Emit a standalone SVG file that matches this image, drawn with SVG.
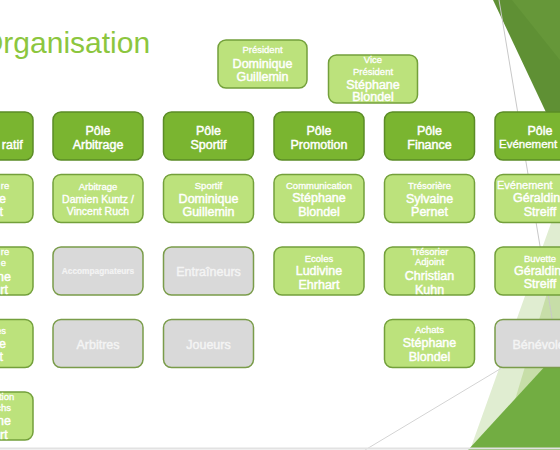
<svg xmlns="http://www.w3.org/2000/svg" width="560" height="450" viewBox="0 0 560 450">
<defs>
<style>
text{font-family:"Liberation Sans",Arial,sans-serif;fill:#ffffff;stroke:#ffffff;stroke-width:0.45;text-anchor:middle}
.pole rect{fill:#7ab530;stroke:#5b8c26;stroke-width:1.5}
.person rect{fill:#bce27c;stroke:#73a03b;stroke-width:1.5}
.grey rect{fill:#d9d9d9;stroke:#7a9c4a;stroke-width:1.5}
.grey text{fill:#f4f4f4;stroke:#f4f4f4}
.r{font-size:9.5px;stroke-width:0.3}
.n{font-size:12.5px}
.s{font-size:10.5px;stroke-width:0.35}
.e{text-anchor:end}
.st{text-anchor:start}
.title{font-size:30px;fill:#8cc63e;stroke:none;text-anchor:start}
</style>
</defs>
<rect x="0" y="0" width="560" height="450" fill="#ffffff"/>
<g id="decor">
<polygon points="493,0 560,0 560,142" fill="#5f9034"/>
<polygon points="512,0 560,0 560,60" fill="#6b9d3d" opacity="0.6"/>
<polygon points="555,212 560,212 560,450 470,450" fill="#e0edd1"/>
<polygon points="560,250 560,450 500,450" fill="#c7dea8"/>
<polygon points="468,450 560,350 560,450" fill="#72ad42"/>
<line x1="499" y1="0" x2="560" y2="366" stroke="#c8c8c8" stroke-width="1"/>
<line x1="365" y1="450" x2="560" y2="333" stroke="#d4d4d4" stroke-width="1"/>
<line x1="0" y1="448.5" x2="560" y2="448.5" stroke="#e2e2e2" stroke-width="2"/>
</g>
<text class="title" x="-20" y="53">Organisation</text>
<g id="connectors"></g>
<g id="president" class="person"><rect x="218" y="40" width="89" height="48" rx="8"/>
<text class="r" x="262.5" y="52.5">Président</text><text class="n" x="262.5" y="67.5">Dominique</text><text class="n" x="262.5" y="81">Guillemin</text></g>
<g id="vice-president" class="person"><rect x="328.5" y="55" width="89" height="48" rx="8"/>
<text class="r" x="373" y="63">Vice</text><text class="r" x="373" y="75">Président</text><text class="n" x="373" y="88.5">Stéphane</text><text class="n" x="373" y="101">Blondel</text></g>

<g id="pole-administratif" class="pole"><rect x="-57" y="112" width="90" height="48" rx="8"/>
<text class="n e" x="22.7" y="148.5">ratif</text></g>
<g id="admin-2" class="person"><rect x="-57" y="174.5" width="90" height="48" rx="8"/>
<text class="r e" x="9.3" y="188.5">re</text><text class="n e" x="6" y="202.5">e</text><text class="n e" x="3" y="216">t</text></g>
<g id="admin-3" class="person"><rect x="-57" y="247" width="90" height="48" rx="8"/>
<text class="r e" x="9.3" y="255">re</text><text class="r e" x="6" y="266">e</text><text class="n e" x="11" y="280.5">ne</text><text class="n e" x="8" y="293.5">rt</text></g>
<g id="admin-4" class="person"><rect x="-57" y="319.5" width="90" height="48" rx="8"/>
<text class="r e" x="6" y="333.5">es</text><text class="n e" x="6" y="347.5">e</text><text class="n e" x="3" y="361">t</text></g>
<g id="admin-5" class="person"><rect x="-57" y="392" width="90" height="48" rx="8"/>
<text class="r e" x="14.3" y="400">ction</text><text class="r e" x="11" y="411">chs</text><text class="n e" x="11" y="425">ne</text><text class="n e" x="7.7" y="438.5">rt</text></g>

<g id="pole-arbitrage" class="pole"><rect x="53" y="112" width="90" height="48" rx="8"/>
<text class="n" x="98" y="134.5">Pôle</text><text class="n" x="98" y="148.5">Arbitrage</text></g>
<g id="arbitrage" class="person"><rect x="53" y="174.5" width="90" height="48" rx="8"/>
<text class="r" x="98" y="190">Arbitrage</text><text class="s" x="98" y="202.8">Damien Kuntz /</text><text class="s" x="98" y="214.8">Vincent Ruch</text></g>
<g id="accompagnateurs" class="grey"><rect x="53" y="247" width="90" height="48" rx="8"/>
<text x="98" y="274" style="font-size:8.3px;font-weight:bold;stroke-width:0.2">Accompagnateurs</text></g>
<g id="arbitres" class="grey"><rect x="53" y="319.5" width="90" height="48" rx="8"/>
<text class="n" x="98" y="348.5">Arbitres</text></g>

<g id="pole-sportif" class="pole"><rect x="163.5" y="112" width="90" height="48" rx="8"/>
<text class="n" x="208.5" y="134.5">Pôle</text><text class="n" x="208.5" y="148.5">Sportif</text></g>
<g id="sportif" class="person"><rect x="163.5" y="174.5" width="90" height="48" rx="8"/>
<text class="r" x="208.5" y="188.5">Sportif</text><text class="n" x="208.5" y="202.8">Dominique</text><text class="n" x="208.5" y="216">Guillemin</text></g>
<g id="entraineurs" class="grey"><rect x="163.5" y="247" width="90" height="48" rx="8"/>
<text class="n" x="208.5" y="275.5">Entraîneurs</text></g>
<g id="joueurs" class="grey"><rect x="163.5" y="319.5" width="90" height="48" rx="8"/>
<text class="n" x="208.5" y="348.5">Joueurs</text></g>

<g id="pole-promotion" class="pole"><rect x="274" y="112" width="90" height="48" rx="8"/>
<text class="n" x="319" y="134.5">Pôle</text><text class="n" x="319" y="148.5">Promotion</text></g>
<g id="communication" class="person"><rect x="274" y="174.5" width="90" height="48" rx="8"/>
<text class="r" x="319" y="188.5">Communication</text><text class="n" x="319" y="202">Stéphane</text><text class="n" x="319" y="215.5">Blondel</text></g>
<g id="ecoles" class="person"><rect x="274" y="247" width="90" height="48" rx="8"/>
<text class="r" x="319" y="261.8">Ecoles</text><text class="n" x="319" y="274.5">Ludivine</text><text class="n" x="319" y="288.5">Ehrhart</text></g>

<g id="pole-finance" class="pole"><rect x="384.5" y="112" width="90" height="48" rx="8"/>
<text class="n" x="429.5" y="134.5">Pôle</text><text class="n" x="429.5" y="148.5">Finance</text></g>
<g id="tresoriere" class="person"><rect x="384.5" y="174.5" width="90" height="48" rx="8"/>
<text class="r" x="429.5" y="188.5">Trésorière</text><text class="n" x="429.5" y="202.5">Sylvaine</text><text class="n" x="429.5" y="215.5">Pernet</text></g>
<g id="tresorier-adjoint" class="person"><rect x="384.5" y="247" width="90" height="48" rx="8"/>
<text class="r" x="429.5" y="255">Trésorier</text><text class="r" x="429.5" y="265">Adjoint</text><text class="n" x="429.5" y="280">Christian</text><text class="n" x="429.5" y="293.5">Kuhn</text></g>
<g id="achats" class="person"><rect x="384.5" y="319.5" width="90" height="48" rx="8"/>
<text class="r" x="429.5" y="332.7">Achats</text><text class="n" x="429.5" y="347">Stéphane</text><text class="n" x="429.5" y="361">Blondel</text></g>

<g id="pole-evenements" class="pole"><rect x="495" y="112" width="90" height="48" rx="8"/>
<text class="n" x="540" y="134.5">Pôle</text><text class="st" x="499" y="148" style="font-size:11.5px;stroke-width:0.35">Evénement</text></g>
<g id="evenements" class="person"><rect x="495" y="174.5" width="90" height="48" rx="8"/>
<text class="st" x="497" y="188.8" style="font-size:11px;stroke-width:0.3">Evénement</text><text class="n st" x="513" y="202.3">Géraldin</text><text class="n" x="540" y="215.5">Streiff</text></g>
<g id="buvette" class="person"><rect x="495" y="247" width="90" height="48" rx="8"/>
<text class="r" x="540" y="261.5">Buvette</text><text class="n st" x="514" y="274.5">Géraldin</text><text class="n" x="540" y="287.5">Streiff</text></g>
<g id="benevoles" class="grey"><rect x="495" y="319.5" width="90" height="48" rx="8"/>
<text class="n st" x="512.5" y="348.5">Bénévole</text></g>
</svg>
